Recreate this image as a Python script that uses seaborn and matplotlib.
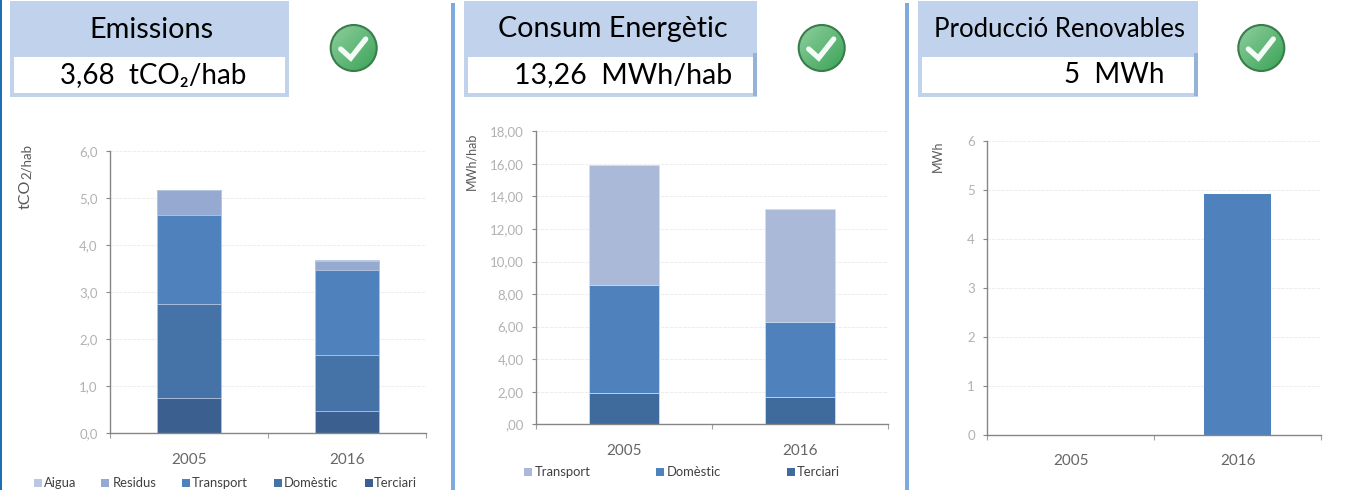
import numpy as np
import matplotlib
matplotlib.use("Agg")
import matplotlib.pyplot as plt
from matplotlib.patches import Rectangle, Circle
import seaborn as sns

# Data
YEARS = ["2005", "2016"]

EM_TICKS = [0, 1, 2, 3, 4, 5, 6]
EM_TICK_LABELS = ["0,0", "1,0", "2,0", "3,0", "4,0", "5,0", "6,0"]
EM_SERIES = ["Terciari", "Domèstic", "Transport", "Residus", "Aigua"]
EM_TERCIARI = [0.75, 0.47]
EM_DOMESTIC = [2.00, 1.19]
EM_TRANSPORT = [1.90, 1.81]
EM_RESIDUS = [0.52, 0.20]
EM_AIGUA = [0.01, 0.01]

EN_TICKS = [0, 2, 4, 6, 8, 10, 12, 14, 16, 18]
EN_TICK_LABELS = [",00", "2,00", "4,00", "6,00", "8,00", "10,00", "12,00", "14,00", "16,00", "18,00"]
EN_SERIES = ["Terciari", "Domèstic", "Transport"]
EN_TERCIARI = [1.94, 1.66]
EN_DOMESTIC = [6.62, 4.62]
EN_TRANSPORT = [7.34, 6.97]

RE_TICKS = [0, 1, 2, 3, 4, 5, 6]
RE_TICK_LABELS = ["0", "1", "2", "3", "4", "5", "6"]
RE_VALUES = [0, 4.92]

EM_COLORS = ["#3b5f8f", "#4572a7", "#4f81bd", "#95a9d1", "#b9c7e2"]
EN_COLORS = ["#3f6a9c", "#4f81bd", "#aab9d7"]

W, H = 1345, 490
HEADER_BLUE = "#c0d2ec"
STRIP_BLUE = "#95b3d7"

sns.set_theme(style="white")
plt.rcParams["font.family"] = ["Lato", "DejaVu Sans"]

fig = plt.figure(figsize=(W / 100, H / 100), dpi=100, facecolor="white")

# Overlay in pixel coordinates for the headers, icons and legends
bg = fig.add_axes([0, 0, 1, 1], zorder=0)
bg.set_xlim(0, W)
bg.set_ylim(H, 0)
bg.axis("off")


def chart_axes(left, right, top, bottom):
    ax = fig.add_axes([left / W, 1 - bottom / H, (right - left) / W, (bottom - top) / H], zorder=1)
    ax.patch.set_alpha(0)
    return ax


def stacked(ax, stacks, colors, edge="#b7c8e2"):
    # seaborn has no stacking, so draw the running totals from the top layer down
    totals = np.cumsum(np.array(stacks), axis=0)
    for total, color in zip(totals[::-1], colors[::-1]):
        sns.barplot(x=YEARS, y=total, color=color, saturation=1, width=0.4,
                    edgecolor=edge, linewidth=0.6, ax=ax)


def style_axes(ax, ticks, labels, ymax, label_pad):
    ax.set_xlim(-0.5, 1.5)
    ax.set_ylim(0, ymax)
    ax.set_yticks(ticks)
    ax.set_yticklabels(labels, fontsize=9.5, color="#b2b2b2")
    ax.set_xticks([0, 1])
    ax.set_xticklabels(YEARS, fontsize=11, color="#666666")
    ax.set_xlabel("")
    ax.set_ylabel("")
    ax.yaxis.grid(True, color="#eeeeee", linewidth=0.8, linestyle=(0, (3, 1)))
    ax.set_axisbelow(True)
    for side in ["top", "right"]:
        ax.spines[side].set_visible(False)
    for side in ["left", "bottom"]:
        ax.spines[side].set_color("#868686")
        ax.spines[side].set_linewidth(1.0)
    ax.tick_params(axis="y", length=3, width=0.8, color="#868686", left=True, pad=6)
    ax.tick_params(axis="x", length=0, pad=label_pad)
    # x ticks sit between the categories
    ax.set_xticks([-0.5, 0.5, 1.5], minor=True)
    ax.tick_params(axis="x", which="minor", length=3.5, width=0.8, color="#a0a0a0", bottom=True)


def header(x0, x1, title, title_x, title_size, value, value_x, value_size=20, strip=True):
    bg.add_patch(Rectangle((x0, 1), x1 - x0, 96, fc=HEADER_BLUE, ec="none"))
    bg.add_patch(Rectangle((x0 + 4, 57), x1 - x0 - 8, 36, fc="white", ec="none"))
    if strip:
        bg.add_patch(Rectangle((x1 - 4, 53), 4, 43, fc=STRIP_BLUE, ec="none"))
    bg.text(title_x, 29.5, title, fontsize=title_size, color="black", ha="center", va="center")
    bg.text(value_x, 75, value, fontsize=value_size, color="black", ha="center", va="center")


def check_icon(cx, cy=48, r=23):
    grad = np.linspace(0, 1, 64)
    gx, gy = np.meshgrid(grad, grad)
    img = bg.imshow(gx * 0.5 + gy * 0.5, cmap=sns.blend_palette(["#8fcf9f", "#3aa356"], as_cmap=True),
                    extent=[cx - r, cx + r, cy + r, cy - r], aspect="auto", zorder=2)
    rim = Circle((cx, cy), r, fc="none", ec="#3a7d4c", lw=1.5, zorder=3)
    bg.add_patch(rim)
    img.set_clip_path(rim)
    bg.plot([cx - 13, cx - 3, cx + 12], [cy + 1, cy + 10, cy - 9], color="#f4faf5",
            lw=3.8, solid_capstyle="round", solid_joinstyle="miter", zorder=4)
    bg.set_xlim(0, W)
    bg.set_ylim(H, 0)


def legend_entry(x, y, text, color, text_x):
    bg.add_patch(Rectangle((x, y - 4), 8, 8, fc=color, ec="none"))
    bg.text(text_x, y, text, fontsize=9.4, color="#404040", ha="left", va="center")


# Panel separators
bg.add_patch(Rectangle((0, 0), 1.5, H, fc="#1f6fb5", ec="none"))
bg.add_patch(Rectangle((451, 3), 4, H, fc="#7faadd", ec="none"))
bg.add_patch(Rectangle((905, 3), 4, H, fc="#7faadd", ec="none"))

# Headers
header(10, 289, "Emissions", 151, 20.8, "3,68  tCO₂/hab", 153.5, strip=False)
header(464, 757, "Consum Energètic", 612.5, 20.6, "13,26  MWh/hab", 623, value_size=20.5)
header(918, 1198, "Producció Renovables", 1059, 18.5, "5  MWh", 1114)
for icon_x in [353.7, 821.7, 1261.3]:
    check_icon(icon_x)

# Emissions
ax1 = chart_axes(110, 426, 151.3, 433.3)
stacked(ax1, [EM_TERCIARI, EM_DOMESTIC, EM_TRANSPORT, EM_RESIDUS, EM_AIGUA], EM_COLORS)
style_axes(ax1, EM_TICKS, EM_TICK_LABELS, 6, 14)
bg.text(26, 209, "tCO", fontsize=11.5, color="#595959", rotation=90, ha="center", va="bottom")
bg.text(27, 179, "2/hab", fontsize=9.5, color="#595959", rotation=90, ha="center", va="bottom")
for name, sq, tx in zip(["Aigua", "Residus", "Transport", "Domèstic", "Terciari"],
                        [34, 101, 182, 274, 365], [44, 113, 192, 284, 374]):
    legend_entry(sq, 482.5, name, EM_COLORS[EM_SERIES.index(name)], tx)

# Consum energetic
ax2 = chart_axes(536.3, 888, 131.3, 424.3)
stacked(ax2, [EN_TERCIARI, EN_DOMESTIC, EN_TRANSPORT], EN_COLORS, edge="#d3deee")
style_axes(ax2, EN_TICKS, EN_TICK_LABELS, 18, 14)
bg.text(471, 161, "MWh/hab", fontsize=9, color="#595959", rotation=90, ha="center", va="center")
for name, sq, tx in zip(["Transport", "Domèstic", "Terciari"], [524, 656, 787], [535, 667, 797]):
    legend_entry(sq, 471.5, name, EN_COLORS[EN_SERIES.index(name)], tx)

# Produccio renovables
ax3 = chart_axes(987.3, 1321, 141.3, 435)
sns.barplot(x=YEARS, y=RE_VALUES, color="#4f81bd", saturation=1, width=0.4, linewidth=0, ax=ax3)
style_axes(ax3, RE_TICKS, RE_TICK_LABELS, 6, 14)
bg.text(938, 156, "MWh", fontsize=9, color="#595959", rotation=90, ha="center", va="center")

fig.savefig("out.png", dpi=100)
plt.close(fig)
